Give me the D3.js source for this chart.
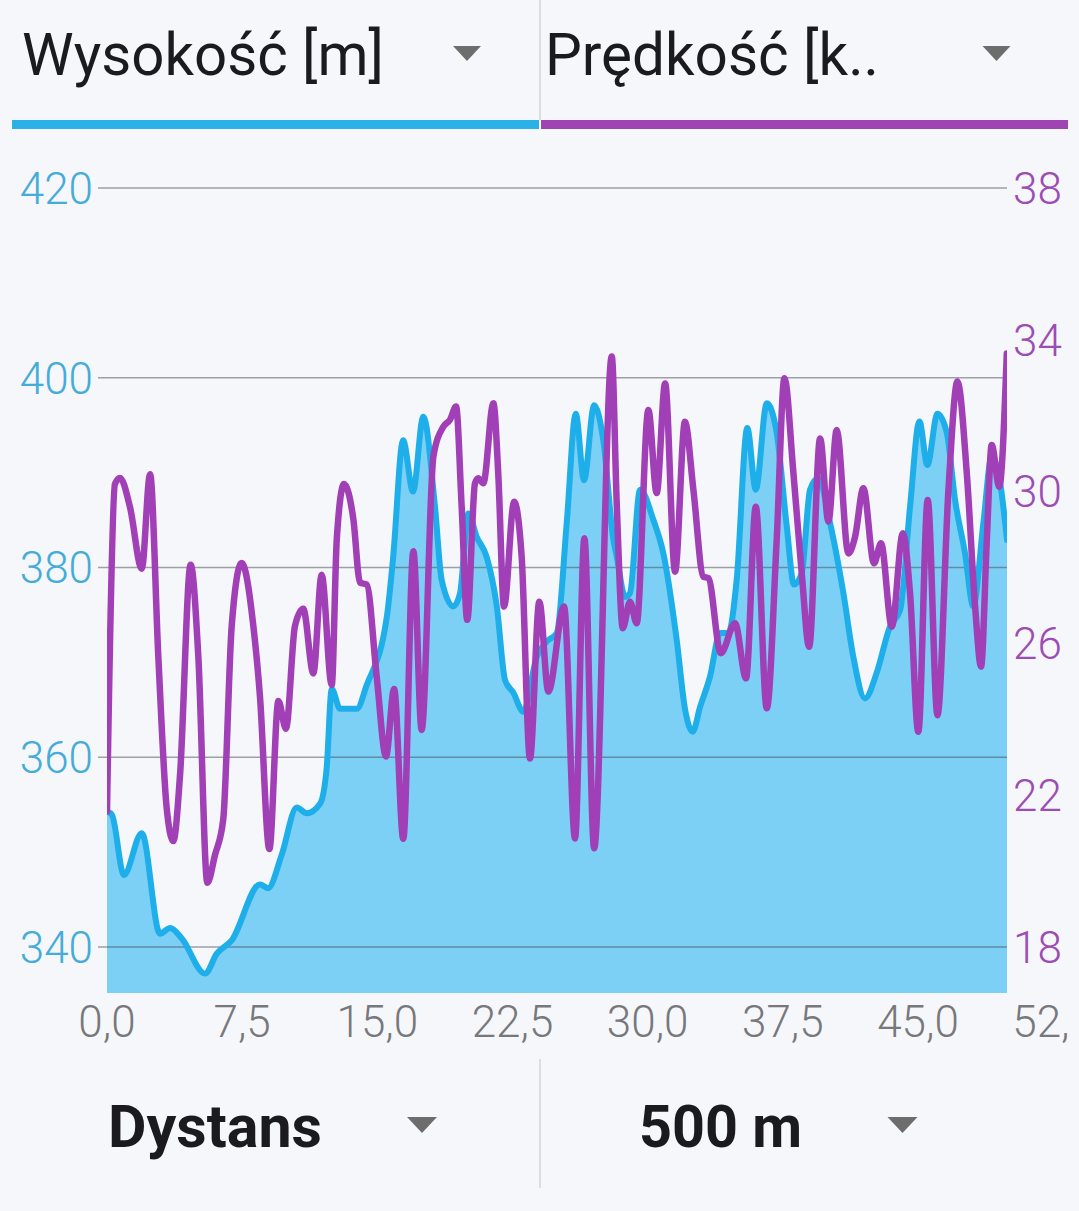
<!DOCTYPE html>
<html><head><meta charset="utf-8">
<script src="https://cdn.jsdelivr.net/npm/d3@7"></script>
<style>html,body{margin:0;padding:0;background:#f6f7fb;overflow:hidden}svg{display:block}</style>
</head><body><svg id="c" width="1079" height="1211"></svg>
<script>
// ---- data (distance in km) ----
const distElev = [0,0.28,0.94,1.93,2.94,3.50,4.15,5.44,6.09,6.92,8.49,8.93,9.69,10.53,11.08,11.82,12.19,12.47,12.93,13.86,14.41,15.52,15.87,16.43,16.98,17.55,18.20,18.57,19.22,19.59,20.05,20.52,21.07,21.63,22.09,22.55,23.10,23.85,24.40,24.96,25.51,26.01,26.47,27.03,27.54,28.10,28.29,28.75,29.02,29.58,30.32,30.87,31.61,32.08,32.50,32.91,33.46,34.02,34.48,34.94,35.53,36.00,36.61,37.16,37.72,38.12,38.55,39.01,39.47,40.12,40.86,41.41,42.06,42.71,43.45,44.01,44.56,45.08,45.52,46.08,46.60,47.06,47.61,48.07,48.63,49.09,49.56,49.94];
const elevValues = [354.3,353.9,347.6,352.0,341.4,342.0,340.9,337.2,339.3,340.7,346.6,346.2,349.7,354.7,354.1,355.1,358.9,367.2,365.1,365.1,367.6,374.7,380.9,393.4,388.0,395.9,386.4,378.7,375.9,377.3,385.7,383.2,381.1,375.9,368.1,366.8,364.8,370.6,372.2,373.1,384.7,396.2,389.2,397.1,393.4,382.9,381.1,376.9,377.3,388.2,385.0,381.5,372.4,365.0,362.7,365.3,368.5,373.1,373.1,378.7,394.7,388.2,397.3,394.2,384.3,378.2,379.4,388.2,389.4,384.7,377.3,370.6,366.2,368.9,373.8,375.5,386.4,395.4,390.8,396.2,394.2,387.1,381.5,375.9,384.7,391.7,388.9,382.9];
const distSpeed = [0,0.44,0.72,1.28,1.93,2.39,2.85,3.31,3.68,4.05,4.64,5.07,5.57,5.99,6.45,6.92,7.47,8.12,8.49,9.01,9.51,9.93,10.43,10.89,11.45,11.91,12.47,12.75,13.15,13.67,14.04,14.41,14.97,15.48,15.93,16.44,17.00,17.46,18.11,18.66,19.03,19.37,19.68,19.99,20.42,20.60,20.88,21.44,21.71,22.03,22.59,23.01,23.47,23.99,24.49,25.36,25.97,26.49,27.03,28.01,28.29,28.62,29.02,29.39,30.04,30.50,30.97,31.52,32.07,32.54,33.09,33.37,34.06,34.85,35.46,36.00,36.61,37.16,37.59,38.09,38.55,38.96,39.57,40.03,40.49,41.14,41.51,41.97,42.56,42.95,43.55,44.16,44.56,45.02,45.54,46.08,46.69,47.19,47.71,48.17,48.50,48.82,49.09,49.51,49.93];
const speedValues = [21.57,30.20,30.36,29.58,27.97,30.46,25.63,21.67,20.79,22.51,28.07,25.63,19.69,20.42,21.36,26.46,28.12,26.46,24.59,20.58,24.48,23.75,26.46,26.91,25.21,27.81,24.90,28.75,30.20,29.27,27.60,27.55,25.10,23.02,24.80,20.85,28.43,23.72,30.92,31.71,31.89,32.24,29.60,26.62,30.22,30.35,30.22,32.33,30.48,26.97,29.73,28.28,22.97,27.10,24.73,26.97,20.86,28.77,20.60,33.56,29.60,26.40,27.10,26.53,32.15,29.96,32.85,27.89,31.84,30.04,27.76,27.72,25.74,26.53,25.08,29.60,24.29,28.72,32.99,30.48,27.85,25.91,31.40,29.21,31.62,28.37,28.81,30.09,28.11,28.64,26.44,28.90,27.32,23.67,29.78,24.11,30.04,32.90,30.48,26.97,25.39,28.72,31.23,30.13,33.64];
const elevTicks = [340,360,380,400,420];
const speedTicks = [18,22,26,30,34,38];
const distTicks = [0,7.5,15,22.5,30,37.5,45,52.5];
const headerLabels = ["Wysokość [m]","Prędkość [k.."];
const footerLabels = ["Dystans","500 m"];

// ---- layout ----
const FONT = "Roboto, 'Noto Sans', sans-serif";
const plot = {left:107, right:1007, top:188, bottom:993};
const BLUE = "#1eaee9", FILL = "#7dd0f5", PURPLE = "#a03fb6";

const svg = d3.select("#c");
svg.append("rect").attr("width",1079).attr("height",1211).attr("fill","#f6f7fb");

const x = d3.scaleLinear().domain([0, 49.94]).range([plot.left, plot.right]);
const yE = d3.scaleLinear().domain([340,420]).range([947,188]);
const yS = d3.scaleLinear().domain([18,38]).range([947,188]);

// header
const hdr = svg.append("g");
hdr.append("line").attr("x1",540).attr("x2",540).attr("y1",0).attr("y2",120).attr("stroke","#d6d6da").attr("stroke-width",1.5);
hdr.append("rect").attr("x",12).attr("y",120).attr("width",527).attr("height",9).attr("fill","#2cb0e8");
hdr.append("rect").attr("x",541).attr("y",120).attr("width",527).attr("height",9).attr("fill","#a044b4");
const hx = [22,545], hw = [362,334], tri = [467,996.5];
headerLabels.forEach((t,i)=>{
  hdr.append("text").attr("x",hx[i]).attr("y",75).attr("font-family",FONT).attr("font-size",60)
    .attr("fill","#1b1b1f").attr("textLength",hw[i]).attr("lengthAdjust","spacingAndGlyphs").text(t);
  hdr.append("path").attr("d",`M${tri[i]-14},46L${tri[i]+14},46L${tri[i]},61Z`).attr("fill","#6d6d6d");
});

// clips
const defs = svg.append("defs");
defs.append("clipPath").attr("id","clip").append("rect")
  .attr("x",plot.left).attr("y",150).attr("width",plot.right-plot.left).attr("height",plot.bottom-150);
defs.append("clipPath").attr("id","clipx").append("rect")
  .attr("x",0).attr("y",995).attr("width",1073).attr("height",60);

const elevData = distElev.map((d,i)=>({d, v:elevValues[i]}));
const speedData = distSpeed.map((d,i)=>({d, v:speedValues[i]}));

const g = svg.append("g").attr("clip-path","url(#clip)");
g.append("path").datum(elevData)
  .attr("d", d3.area().x(p=>x(p.d)).y0(plot.bottom).y1(p=>yE(p.v)).curve(d3.curveMonotoneX))
  .attr("fill",FILL);

// gridlines
svg.append("g").selectAll("line").data(elevTicks).join("line")
  .attr("x1",98).attr("x2",plot.right).attr("y1",d=>yE(d)).attr("y2",d=>yE(d))
  .attr("stroke","rgba(72,72,82,0.5)").attr("stroke-width",1.6);

const g2 = svg.append("g").attr("clip-path","url(#clip)");
g2.append("path").datum(elevData)
  .attr("d", d3.line().x(p=>x(p.d)).y(p=>yE(p.v)).curve(d3.curveMonotoneX))
  .attr("fill","none").attr("stroke",BLUE).attr("stroke-width",6).attr("stroke-linejoin","round").attr("stroke-linecap","round");
g2.append("path").datum(speedData)
  .attr("d", d3.line().x(p=>x(p.d)).y(p=>yS(p.v)).curve(d3.curveMonotoneX))
  .attr("fill","none").attr("stroke",PURPLE).attr("stroke-width",6.5).attr("stroke-linejoin","round").attr("stroke-linecap","round");

// axis labels
svg.append("g").selectAll("text").data(elevTicks).join("text")
  .attr("x",93).attr("y",d=>yE(d)).attr("dy","0.36em").attr("text-anchor","end")
  .attr("font-family",FONT).attr("font-weight",300).attr("font-size",44).attr("fill","#44acd8").text(d=>d);
svg.append("g").selectAll("text").data(speedTicks).join("text")
  .attr("x",1013).attr("y",d=>yS(d)).attr("dy","0.36em").attr("text-anchor","start")
  .attr("font-family",FONT).attr("font-weight",300).attr("font-size",44).attr("fill","#9c4cb4").text(d=>d);
svg.append("g").attr("clip-path","url(#clipx)").selectAll("text").data(distTicks).join("text")
  .attr("x",d=>x(d)).attr("y",1037).attr("text-anchor","middle")
  .attr("font-family",FONT).attr("font-weight",300).attr("font-size",44).attr("fill","#78787c")
  .text(d=>d.toFixed(1).replace(".",","));

// footer
const ft = svg.append("g");
ft.append("line").attr("x1",540).attr("x2",540).attr("y1",1059).attr("y2",1188).attr("stroke","#d6d6da").attr("stroke-width",1.5);
const fx = [108,639], fw = [214,163], ftri = [422,902.5];
footerLabels.forEach((t,i)=>{
  ft.append("text").attr("x",fx[i]).attr("y",1147).attr("font-family",FONT).attr("font-weight",700)
    .attr("font-size",59).attr("fill","#1b1b1f").attr("textLength",fw[i]).attr("lengthAdjust","spacingAndGlyphs").text(t);
  ft.append("path").attr("d",`M${ftri[i]-15},1117L${ftri[i]+15},1117L${ftri[i]},1133Z`).attr("fill","#6d6d6d");
});
</script></body></html>
